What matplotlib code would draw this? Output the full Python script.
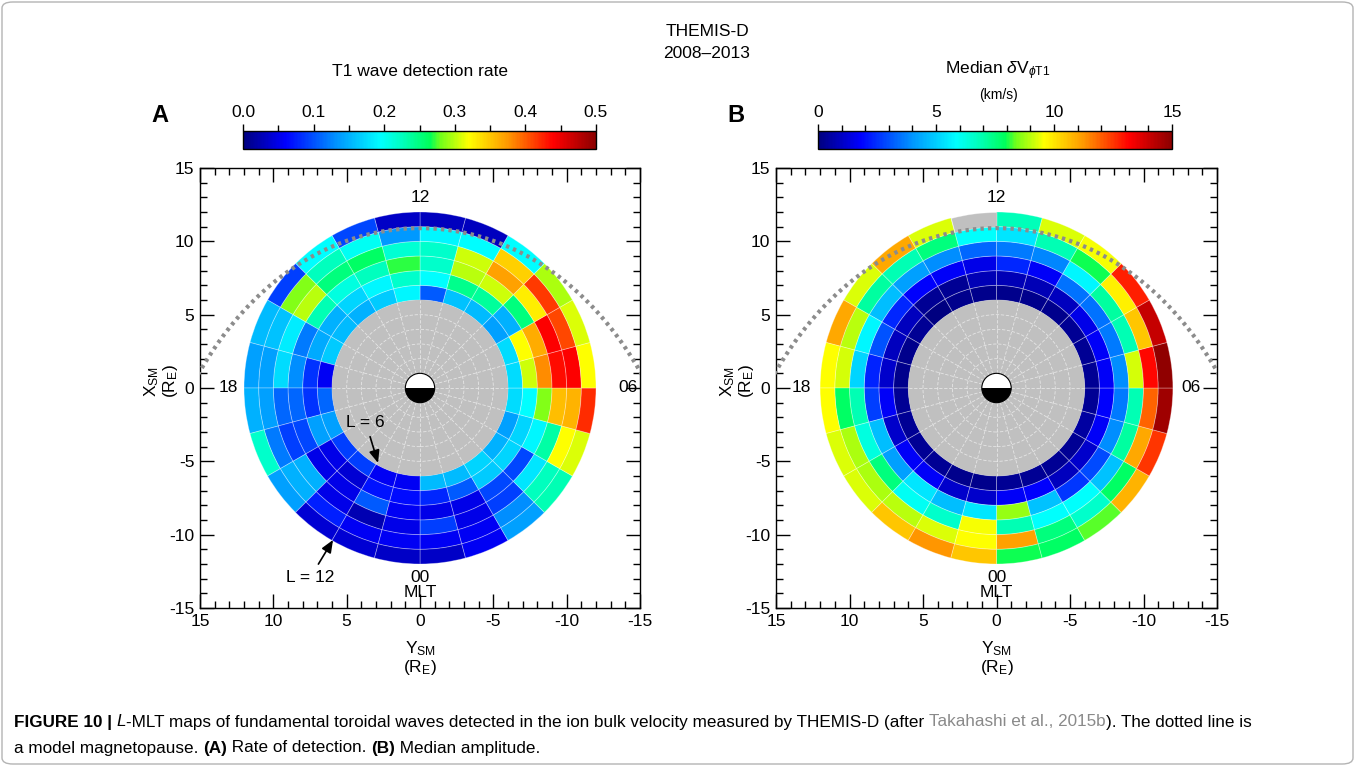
import numpy as np
import matplotlib
matplotlib.use("Agg")
import matplotlib.pyplot as plt
from matplotlib.patches import Wedge, Circle, FancyBboxPatch
from matplotlib.collections import PatchCollection
from matplotlib.colors import LinearSegmentedColormap, Normalize
from matplotlib.ticker import MultipleLocator

plt.rcParams['font.family'] = ['Liberation Sans', 'DejaVu Sans']
plt.rcParams['mathtext.fontset'] = 'custom'
plt.rcParams['mathtext.rm'] = 'Liberation Sans'
plt.rcParams['mathtext.it'] = 'Liberation Sans:italic'
plt.rcParams['mathtext.bf'] = 'Liberation Sans:bold'
plt.rcParams['axes.unicode_minus'] = False

# bins: L shells 6..12, MLT hours 0..23
l_edges = [6, 7, 8, 9, 10, 11, 12]
mlt_hours = list(range(24))

# T1 detection rate, one row per MLT hour, columns L = 6-7 ... 11-12
rate = [
    [0.155, 0.08, 0.05, 0.09, 0.055, 0.035],
    [0.155, 0.105, 0.05, 0.05, 0.055, 0.055],
    [0.17, 0.165, 0.095, 0.09, 0.13, 0.14],
    [0.15, 0.17, 0.095, 0.18, 0.225, 0.23],
    [0.14, 0.17, 0.19, 0.235, 0.32, 0.31],
    [0.175, 0.195, 0.285, 0.355, 0.36, 0.42],
    [0.175, 0.305, 0.38, 0.435, 0.44, 0.32],
    [0.175, 0.32, 0.365, 0.44, 0.41, 0.31],
    [0.14, 0.15, 0.25, 0.33, 0.415, 0.295],
    [0.155, 0.24, 0.305, 0.37, 0.345, 0.195],
    [0.16, 0.245, 0.30, 0.305, 0.195, 0.03],
    [0.105, 0.195, 0.22, 0.22, 0.19, 0.03],
    [0.19, 0.22, 0.27, 0.215, 0.135, 0.035],
    [0.165, 0.19, 0.225, 0.26, 0.20, 0.095],
    [0.15, 0.17, 0.21, 0.25, 0.225, 0.195],
    [0.155, 0.15, 0.23, 0.30, 0.285, 0.09],
    [0.165, 0.145, 0.12, 0.185, 0.16, 0.155],
    [0.055, 0.085, 0.13, 0.175, 0.14, 0.14],
    [0.11, 0.085, 0.11, 0.11, 0.14, 0.15],
    [0.14, 0.14, 0.095, 0.09, 0.12, 0.22],
    [0.09, 0.05, 0.05, 0.15, 0.15, 0.14],
    [0.09, 0.04, 0.05, 0.05, 0.075, 0.04],
    [0.055, 0.07, 0.105, 0.025, 0.055, 0.04],
    [0.055, 0.065, 0.055, 0.05, 0.055, 0.035],
]

# median dV_phi T1 amplitude (km/s); None = no data
amp = [
    [0.3, 1.7, 8.7, 6.9, 11.1, 8.0],
    [0.3, 1.8, 4.8, 5.9, 7.5, 7.8],
    [0.3, 0.9, 2.6, 5.9, 6.6, 8.3],
    [0.3, 1.1, 2.9, 4.8, 7.8, 10.8],
    [0.5, 1.7, 3.9, 7.1, 11.0, 12.5],
    [0.3, 1.8, 3.6, 6.9, 11.9, 14.7],
    [0.3, 1.7, 3.9, 9.2, 13.1, 14.9],
    [0.3, 1.7, 3.6, 6.9, 10.5, 14.1],
    [0.3, 1.5, 3.5, 7.1, 9.8, 12.8],
    [0.2, 0.9, 3.5, 5.7, 8.0, 9.5],
    [0.2, 0.8, 1.7, 3.8, 6.9, 9.3],
    [0.2, 0.8, 2.4, 3.6, 5.4, 6.8],
    [0.2, 0.8, 1.5, 3.3, 5.9, None],
    [0.2, 0.3, 1.7, 3.9, 7.5, 9.3],
    [0.0, 0.3, 1.8, 4.2, 6.9, 11.0],
    [0.3, 0.9, 2.4, 4.7, 7.1, 9.3],
    [0.2, 0.9, 3.0, 5.7, 9.0, 11.0],
    [0.2, 1.1, 2.3, 5.1, 9.2, 9.6],
    [0.3, 1.7, 2.7, 6.9, 7.8, 9.6],
    [0.3, 1.1, 4.7, 6.3, 8.9, 9.3],
    [0.3, 1.7, 4.2, 7.5, 8.9, 9.3],
    [0.3, 1.7, 5.4, 6.0, 9.0, 10.5],
    [0.2, 1.1, 4.7, 6.6, 9.3, 11.3],
    [0.2, 1.1, 5.4, 9.5, 9.6, 10.5],
]

# model magnetopause (Shue-type) parameters
mp_r0 = 10.9
mp_alpha = 0.52

cmap = LinearSegmentedColormap.from_list('idl_rainbow', [
    (0.00, (0.0, 0.0, 0.5)),
    (0.12, (0.0, 0.0, 1.0)),
    (0.27, (0.0, 0.6, 1.0)),
    (0.39, (0.0, 1.0, 1.0)),
    (0.45, (0.0, 1.0, 0.75)),
    (0.53, (0.0, 1.0, 0.35)),
    (0.56, (0.45, 1.0, 0.1)),
    (0.64, (1.0, 1.0, 0.0)),
    (0.75, (1.0, 0.6, 0.0)),
    (0.88, (1.0, 0.0, 0.0)),
    (1.00, (0.55, 0.0, 0.0)),
])

W, H = 1355, 766
fig = plt.figure(figsize=(W / 100, H / 100), dpi=100)
fig.patches.append(FancyBboxPatch((2 / W, 2 / H), 1 - 4 / W, 1 - 4 / H,
                                  boxstyle='round,pad=0,rounding_size=0.008',
                                  transform=fig.transFigure, fc='none',
                                  ec='#b4b4b4', lw=1.0))

GRAY = '#c0c0c0'


def draw_map(ax, values, norm, dusk_x, dawn_x):
    cells, vals, empty = [], [], []
    for m, row in zip(mlt_hours, values):
        t1 = -90 - 15 * (m + 1)
        t2 = -90 - 15 * m
        for k, v in enumerate(row):
            w = Wedge((0, 0), l_edges[k + 1], t1, t2,
                      width=l_edges[k + 1] - l_edges[k])
            if v is None:
                empty.append(w)
            else:
                cells.append(w)
                vals.append(v)
    pc = PatchCollection(cells, cmap=cmap, norm=norm,
                         edgecolor=(1, 1, 1, 0.35), linewidth=0.6, zorder=2)
    pc.set_array(np.array(vals))
    ax.add_collection(pc)
    if empty:
        ax.add_collection(PatchCollection(empty, facecolor=GRAY,
                                          edgecolor=(1, 1, 1, 0.35),
                                          linewidth=0.6, zorder=2))

    # inner region L < 6
    ax.add_patch(Circle((0, 0), l_edges[0], fc=GRAY, ec='none', zorder=2))
    for r in range(2, l_edges[0]):
        ax.add_patch(Circle((0, 0), r, fc='none', ec=(1, 1, 1, 0.6),
                            lw=0.6, ls=(0, (4, 2)), zorder=3))
    for m in mlt_hours:
        a = np.deg2rad(-90 - 15 * m)
        ax.plot([np.cos(a), l_edges[0] * np.cos(a)],
                [np.sin(a), l_edges[0] * np.sin(a)],
                color=(1, 1, 1, 0.6), lw=0.6, ls=(0, (4, 2)), zorder=3)

    # Earth: day side white, night side black
    ax.add_patch(Wedge((0, 0), 1, 0, 180, fc='white', ec='none', zorder=4))
    ax.add_patch(Wedge((0, 0), 1, 180, 360, fc='black', ec='none', zorder=4))
    ax.add_patch(Circle((0, 0), 1, fc='none', ec='black', lw=0.8, zorder=5))

    # magnetopause
    th = np.deg2rad(np.linspace(-110, 110, 400))
    r = mp_r0 * (2 / (1 + np.cos(th))) ** mp_alpha
    ax.plot(r * np.sin(th), r * np.cos(th), color='#8c8c8c', lw=3,
            ls=(0, (0.8, 1.0)), zorder=6)

    ax.set_xlim(15, -15)
    ax.set_ylim(-15, 15)
    ax.xaxis.set_major_locator(MultipleLocator(5))
    ax.yaxis.set_major_locator(MultipleLocator(5))
    ax.xaxis.set_minor_locator(MultipleLocator(1))
    ax.yaxis.set_minor_locator(MultipleLocator(1))
    ax.tick_params(which='both', direction='in', top=True, right=True,
                   labelsize=12.5, width=1)
    ax.tick_params(which='major', length=10, pad=4)
    ax.tick_params(which='minor', length=5)
    for s in ax.spines.values():
        s.set_linewidth(1)
    ax.text(-0.088, 0.515, 'X$_{\\mathrm{SM}}$\n(R$_{\\mathrm{E}}$)',
            transform=ax.transAxes, rotation=90, ha='center', va='center',
            fontsize=12.5, linespacing=1.0)
    ax.text(0.5, -0.115, 'Y$_{\\mathrm{SM}}$\n(R$_{\\mathrm{E}}$)',
            transform=ax.transAxes, ha='center', va='center',
            fontsize=12.5, linespacing=1.0)
    ax.text(0, 13.0, '12', ha='center', va='center', fontsize=12.5, zorder=7)
    ax.text(0, -12.9, '00', ha='center', va='center', fontsize=12.5, zorder=7)
    ax.text(0, -13.95, 'MLT', ha='center', va='center', fontsize=12.5, zorder=7)
    ax.text(dusk_x, 0, '18', ha='center', va='center', fontsize=12.5, zorder=7)
    ax.text(dawn_x, 0, '06', ha='center', va='center', fontsize=12.5, zorder=7)


def colorbar(rect, norm, ticks, minor, fmt):
    cax = fig.add_axes(rect)
    sm = plt.cm.ScalarMappable(norm=norm, cmap=cmap)
    cb = fig.colorbar(sm, cax=cax, orientation='horizontal')
    cb.set_ticks(ticks)
    cb.set_ticklabels([fmt.format(t) for t in ticks])
    cax.xaxis.set_minor_locator(MultipleLocator(minor))
    cax.xaxis.set_ticks_position('top')
    cax.tick_params(which='both', direction='out', labelsize=12.5, width=1)
    cax.tick_params(which='major', length=5, pad=3)
    cax.tick_params(which='minor', length=4)
    cb.outline.set_linewidth(1)
    return cax


ax_top, ax_h = 1 - 608 / H, 440 / H
axA = fig.add_axes([200 / W, ax_top, 440 / W, ax_h])
axB = fig.add_axes([776 / W, ax_top, 441 / W, ax_h])

normA = Normalize(0, 0.5)
normB = Normalize(0, 15)
draw_map(axA, rate, normA, 13.1, -14.2)
draw_map(axB, amp, normB, 13.3, -13.2)

# L annotations
axA.annotate('L = 6', xy=(2.86, -5.11), xytext=(3.7, -2.35),
             ha='center', va='center', fontsize=12.5, zorder=8,
             arrowprops=dict(arrowstyle='-|>,head_length=0.6,head_width=0.25',
                             color='black', lw=1.2, shrinkA=3, shrinkB=0))
axA.annotate('L = 12', xy=(5.93, -10.36), xytext=(7.5, -12.95),
             ha='center', va='center', fontsize=12.5, zorder=8,
             arrowprops=dict(arrowstyle='-|>,head_length=0.6,head_width=0.25',
                             color='black', lw=1.2, shrinkA=3, shrinkB=0))

cb_bottom, cb_h = 1 - 149 / H, 18 / H
colorbar([243 / W, cb_bottom, 353 / W, cb_h], normA,
         [0, 0.1, 0.2, 0.3, 0.4, 0.5], 0.05, '{:.1f}')
colorbar([818 / W, cb_bottom, 354 / W, cb_h], normB,
         [0, 5, 10, 15], 1, '{:g}')

fig.text(420 / W, 1 - 72 / H, 'T1 wave detection rate', ha='center',
         va='center', fontsize=12.5)
fig.text(998 / W, 1 - 71 / H, 'Median $\\delta$V$_{\\phi\\mathrm{T1}}$',
         ha='center', va='center', fontsize=12.5)
fig.text(998 / W, 1 - 95 / H, '(km/s)', ha='center', va='center', fontsize=10)
fig.text(160 / W, 1 - 115 / H, 'A', ha='center', va='center', fontsize=17,
         fontweight='bold')
fig.text(736 / W, 1 - 115 / H, 'B', ha='center', va='center', fontsize=17,
         fontweight='bold')
fig.text(707 / W, 1 - 32 / H, 'THEMIS-D', ha='center', va='center', fontsize=12.5)
fig.text(707 / W, 1 - 53 / H, '2008\u20132013', ha='center', va='center',
         fontsize=12.5)

# caption
cap_fs = 12.3
renderer = fig.canvas.get_renderer()


def caption_line(pieces, x, y):
    for s, kw in pieces:
        t = fig.text(x, y, s, ha='left', va='center', fontsize=cap_fs, **kw)
        bb = t.get_window_extent(renderer)
        x = bb.x1 / fig.bbox.width


caption_line([
    ('FIGURE 10 | ', dict(fontweight='bold')),
    ('L', dict(style='italic')),
    ('-MLT maps of fundamental toroidal waves detected in the ion bulk velocity '
     'measured by THEMIS-D (after ', {}),
    ('Takahashi et al., 2015b', dict(color='#8a8a8a')),
    ('). The dotted line is', {}),
], 14 / W, 1 - 722 / H)
caption_line([
    ('a model magnetopause. ', {}),
    ('(A)', dict(fontweight='bold')),
    (' Rate of detection. ', {}),
    ('(B)', dict(fontweight='bold')),
    (' Median amplitude.', {}),
], 14 / W, 1 - 748 / H)

fig.savefig('out.png', dpi=100)
